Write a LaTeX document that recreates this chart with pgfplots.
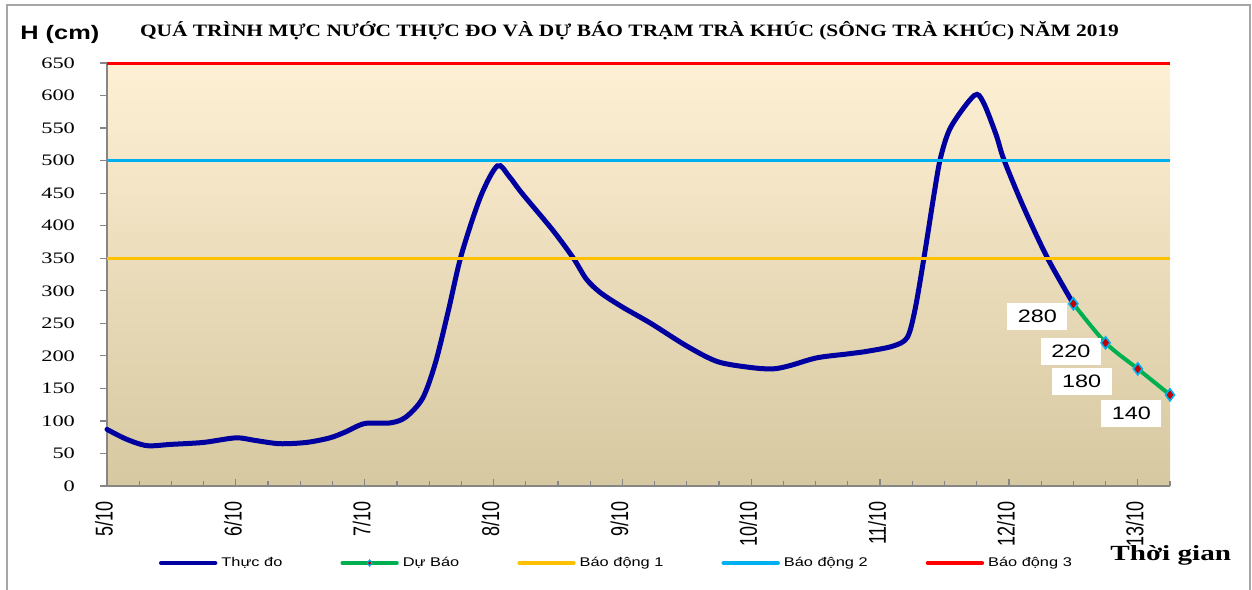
\documentclass[border=0pt]{standalone}
\usepackage{fontspec}
\usepackage{graphicx}
\usepackage{pgfplots}
\pgfplotsset{compat=1.18}
\setmainfont{Liberation Serif}[FakeStretch=1.35]
\newfontfamily\tnr{Liberation Serif}[FakeStretch=1.35]
\newfontfamily\tnrT{Liberation Serif}[FakeStretch=1.23]
\newfontfamily\tnrY{Liberation Serif}[FakeStretch=1.4]
\newfontfamily\ari{Liberation Sans}[FakeStretch=1.3]
\newfontfamily\ariN{Liberation Sans}
\newcommand\xl[1]{\scalebox{1}[1.35]{#1}}

\definecolor{dongchay}{RGB}{0,0,160}
\definecolor{dubao}{RGB}{0,176,80}
\definecolor{bd1}{RGB}{255,192,0}
\definecolor{bd2}{RGB}{0,176,240}
\definecolor{bd3}{RGB}{255,0,0}
\definecolor{mk}{RGB}{192,0,0}
\definecolor{axgray}{RGB}{134,134,134}

\begin{document}
\begin{tikzpicture}
\path[use as bounding box] (-53.5pt,-51.5pt) rectangle (572.5pt,243pt);
\draw[color={rgb,255:red,166;green,166;blue,166}, line width=1pt]
  (-50pt,-53pt) -- (-50pt,240.5pt) -- (571.5pt,240.5pt) -- (571.5pt,-53pt);
\begin{axis}[
    scale only axis,
    width=531.5pt, height=211.5pt,
    xmin=0, xmax=8.25, ymin=0, ymax=650,
    axis lines*=left,
    axis line style={axgray, line width=0.75pt},
    axis background/.style={top color={rgb,255:red,254;green,240;blue,212},
        middle color={rgb,255:red,241;green,233;blue,212},
        bottom color={rgb,255:red,214;green,200;blue,160}},
    ytick={0,50,...,650},
    xtick={0,1,...,8},
    xticklabels={\xl{5/10},\xl{6/10},\xl{7/10},\xl{8/10},\xl{9/10},\xl{10/10},\xl{11/10},\xl{12/10},\xl{13/10}},
    minor xtick={0.25,0.5,...,8.25},
    xtick align=inside, ytick align=outside,
    major tick length=3.5pt, minor tick length=2.5pt,
    x tick style={axgray, line width=0.6pt},
    y tick style={axgray, line width=0.6pt},
    /pgf/number format/assume math mode=true,
    yticklabel style={font=\tnrY\fontsize{8}{9}\selectfont, anchor=east, xshift=-9pt},
    xticklabel style={font=\ariN\fontsize{9}{10}\selectfont, rotate=90, anchor=east, xshift=-4pt, yshift=1.5pt},
    clip=false,
    legend columns=5,
    legend style={at={(axis description cs:0.0489,-0.182)}, anchor=west,
        draw=none, fill=none, inner sep=0pt, outer sep=0pt,
        font=\ari\fontsize{6.3}{7}\selectfont,
        /tikz/every even column/.append style={column sep=27pt}},
    legend image code/.code={\draw[#1,line width=2.2pt,line cap=round,mark repeat=2,mark phase=2]
        plot coordinates {(0pt,0pt)(13.5pt,0pt)(27pt,0pt)};},
]
\addplot[dongchay, line width=2.5pt, smooth, line cap=round] coordinates {
(0,87) (0.15,72) (0.31,62) (0.5,64) (0.75,67) (1.0,74) (1.15,70) (1.34,65)
(1.55,67) (1.73,74) (1.85,83) (2.0,96) (2.2,97) (2.32,106) (2.45,135)
(2.55,190) (2.65,270) (2.75,355) (2.9,445) (3.03,492) (3.12,476) (3.22,450)
(3.46,393) (3.62,350) (3.72,318) (3.83,297) (4.0,275) (4.22,250) (4.5,215)
(4.74,191) (5.0,182) (5.17,180) (5.3,185) (5.51,197) (5.75,203) (5.9,207)
(6.1,215) (6.21,228) (6.27,270) (6.34,350) (6.42,450) (6.47,505) (6.55,552)
(6.73,600) (6.8,590) (6.9,540) (6.96,502) (7.11,430) (7.3,350) (7.5,280)
};
\addlegendentry{Thực\ đo}
\addlegendimage{dubao, mark=diamond*, mark size=1.6pt,
    mark options={fill=mk, draw=bd2, line width=0.5pt}}
\addlegendentry{Dự Báo}
\addplot[forget plot, dubao, line width=2pt, smooth, mark=diamond*, mark size=3pt,
    mark options={fill=mk, draw=bd2, line width=0.8pt}] coordinates {
(7.5,280) (7.75,220) (8.0,180) (8.25,140)
};
\addplot[bd1, line width=1.5pt] coordinates {(0,350) (8.25,350)};
\addlegendentry{Báo\ động\ 1}
\addplot[bd2, line width=1.5pt] coordinates {(0,500) (8.25,500)};
\addlegendentry{Báo\ động\ 2}
\addplot[bd3, line width=1.5pt] coordinates {(0,650) (8.25,650)};
\addlegendentry{Báo\ động\ 3}
\tikzset{lbl/.style={fill=white, inner sep=0pt, minimum width=30pt, minimum height=13.5pt,
    font=\ari\fontsize{9}{10}\selectfont}}
\node[lbl] at (axis cs:7.22,260) {280};
\node[lbl] at (axis cs:7.48,207) {220};
\node[lbl] at (axis cs:7.565,161) {180};
\node[lbl] at (axis cs:7.95,112) {140};
\end{axis}
\node[anchor=base, inner sep=0pt, font=\tnrT\bfseries\fontsize{8.7}{10}\selectfont]
  at (261.25pt,224.65pt) {QUÁ TRÌNH MỰC NƯỚC THỰC ĐO VÀ DỰ BÁO TRẠM TRÀ KHÚC (SÔNG TRÀ KHÚC) NĂM 2019};
\node[anchor=base west, inner sep=0pt, font=\ari\bfseries\fontsize{9.75}{11}\selectfont]
  at (-43.5pt,223pt) {H (cm)};
\node[anchor=base west, inner sep=0pt, font=\tnr\bfseries\fontsize{10.8}{12}\selectfont]
  at (501.5pt,-37.35pt) {Thời gian};
\end{tikzpicture}
\end{document}
